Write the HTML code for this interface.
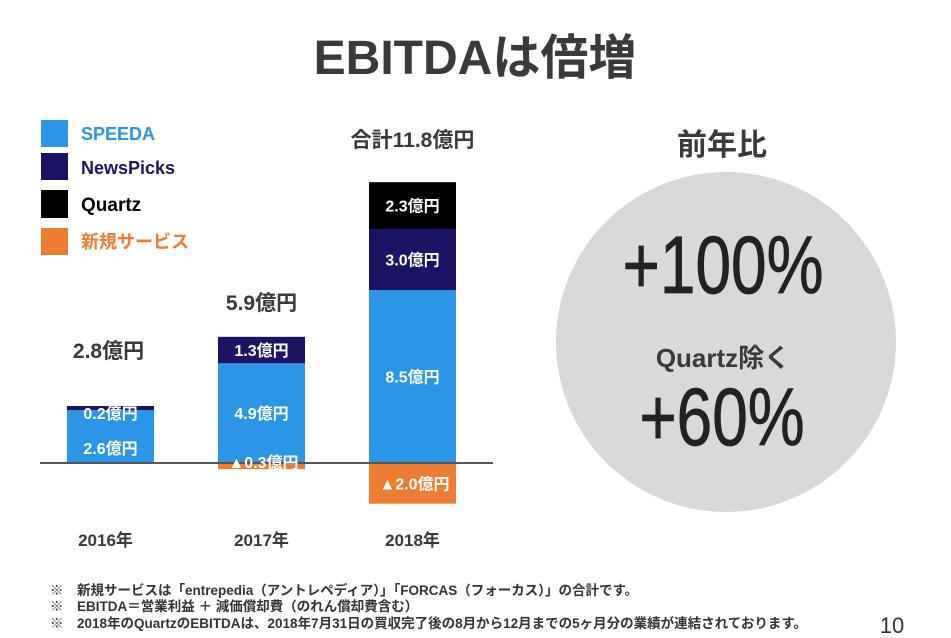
<!DOCTYPE html>
<html><head><meta charset="utf-8"><style>
html,body{margin:0;padding:0;background:#fff;}
svg{display:block;font-family:"Liberation Sans","Noto Sans CJK JP",sans-serif;}
</style></head><body>
<svg id="chart" width="951" height="638" viewBox="0 0 951 638" xmlns="http://www.w3.org/2000/svg">
<text x="475" y="74" text-anchor="middle" font-size="48" font-weight="bold" fill="#3a3a3a">EBITDAは倍増</text>
<g>
<rect x="41" y="120" width="27" height="27" fill="#2a96e5"/>
<text x="81" y="140" font-size="18" font-weight="bold" fill="#2a96e5">SPEEDA</text>
<rect x="41" y="153" width="27" height="27" fill="#1b1464"/>
<text x="81" y="174" font-size="18" font-weight="bold" fill="#1b1464">NewsPicks</text>
<rect x="41" y="190" width="27" height="28" fill="#000"/>
<text x="81" y="211" font-size="19" font-weight="bold" fill="#000">Quartz</text>
<rect x="41" y="228" width="27" height="27" fill="#ed7d31"/>
<text x="81" y="248" font-size="18" font-weight="bold" fill="#ed7d31">新規サービス</text>
</g>
<g id="bars"></g>
<line x1="40" y1="463" x2="493" y2="463" stroke="#555" stroke-width="2"/>
<g id="labels"></g>
<text x="722" y="155" text-anchor="middle" font-size="30" font-weight="bold" fill="#3a3a3a">前年比</text>
<circle cx="726" cy="342" r="170" fill="#d9d9d9"/>
<text transform="translate(723,293) scale(0.78,1)" text-anchor="middle" font-size="82" fill="#222" stroke="#222" stroke-width="0.8">+100%</text>
<text x="723" y="367" text-anchor="middle" font-size="26" font-weight="bold" fill="#3a3a3a">Quartz除く</text>
<text transform="translate(722,445) scale(0.78,1)" text-anchor="middle" font-size="82" fill="#222" stroke="#222" stroke-width="0.8">+60%</text>
<g font-size="13.5" font-weight="bold" fill="#333">
<text x="50" y="595">※　新規サービスは「entrepedia（アントレペディア）」「FORCAS（フォーカス）」の合計です。</text>
<text x="50" y="611">※　EBITDA＝営業利益 ＋ 減価償却費（のれん償却費含む）</text>
<text x="50" y="628">※　2018年のQuartzのEBITDAは、2018年7月31日の買収完了後の8月から12月までの5ヶ月分の業績が連結されております。</text>
</g>
<text x="892" y="633" text-anchor="middle" font-size="22" fill="#333">10</text>
</svg>
<script>
const years = ["2016年","2017年","2018年"];
const speeda = [2.6, 4.9, 8.5];
const newspicks = [0.2, 1.3, 3.0];
const quartz = [0, 0, 2.3];
const newServices = [0, -0.3, -2.0];
const totals = ["2.8億円","5.9億円","合計11.8億円"];

const NS = "http://www.w3.org/2000/svg";
const baseY = 463, pxPerUnit = 20.35;
const barX = [67, 218, 369], barW = 87;
const y = v => baseY - v * pxPerUnit;
const bars = document.getElementById('bars');
const labels = document.getElementById('labels');
function rect(x, v0, v1, fill, name) {
  const r = document.createElementNS(NS, 'rect');
  r.setAttribute('x', x); r.setAttribute('width', barW);
  r.setAttribute('y', Math.min(y(v0), y(v1)));
  r.setAttribute('height', Math.abs(y(v1) - y(v0)));
  r.setAttribute('fill', fill);
  
  
  bars.appendChild(r);
}
function txt(x, yy, s, size, fill, name, anchor) {
  const t = document.createElementNS(NS, 'text');
  t.setAttribute('x', x); t.setAttribute('y', yy);
  t.setAttribute('font-size', size); t.setAttribute('font-weight', 'bold');
  t.setAttribute('fill', fill); t.setAttribute('text-anchor', anchor || 'middle');
  t.textContent = s;
  
  
  labels.appendChild(t);
}
const fmt = v => (v < 0 ? "▲" + Math.abs(v).toFixed(1) : v.toFixed(1)) + "億円";
years.forEach((yr, i) => {
  const x = barX[i], cx = x + barW / 2;
  rect(x, 0, speeda[i], '#2a96e5', 'bar-speeda-' + i);
  const top = speeda[i];
  rect(x, top, top + newspicks[i], '#1b1464', 'bar-newspicks-' + i);
  const npTop = top + newspicks[i];
  if (quartz[i] > 0) rect(x, npTop, npTop + quartz[i], '#000', 'bar-quartz-' + i);
  if (newServices[i] < 0) rect(x, 0, newServices[i], '#ed7d31', 'bar-new-services-' + i);
  const total = npTop + quartz[i];
  const smallNp = newspicks[i] < 0.5;
  txt(cx, smallNp ? baseY - 9 : y(speeda[i] / 2) + 6, fmt(speeda[i]), 16, '#fff', 'label-speeda-' + i);
  if (!smallNp) txt(cx, y(top + newspicks[i] / 2) + 6, fmt(newspicks[i]), 16, '#fff', 'label-newspicks-' + i);
  else txt(cx, y(top) + 9, fmt(newspicks[i]), 16, '#fff', 'label-newspicks-' + i);
  if (quartz[i] > 0) txt(cx, y(npTop + quartz[i] / 2) + 6, fmt(quartz[i]), 16, '#fff', 'label-quartz-' + i);
  if (newServices[i] < 0) {
    const h = Math.abs(newServices[i]) * pxPerUnit;
    txt(cx + 2, h > 20 ? y(newServices[i] / 2) + 6 : baseY + 5, fmt(newServices[i]), 16, '#fff', 'label-new-services-' + i);
  }
  txt(i === 0 ? cx - 2 : cx, y(total) - (i === 0 ? 48 : i === 1 ? 27 : 35), totals[i], 21, '#3a3a3a', 'total-label-' + i);
  txt(cx - (i === 0 ? 5 : 0), 546, yr, 17, '#3a3a3a', 'x-label-' + i);
});
</script>
</body></html>
